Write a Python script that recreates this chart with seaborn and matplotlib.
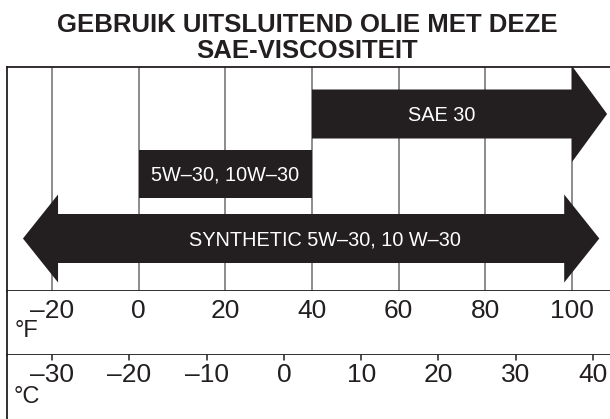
import matplotlib
matplotlib.use("Agg")
import matplotlib.pyplot as plt
from matplotlib.patches import Polygon
import seaborn as sns

# data
title = "GEBRUIK UITSLUITEND OLIE MET DEZE\nSAE-VISCOSITEIT"
grades = ["SAE 30", "5W\u201330, 10W\u201330", "SYNTHETIC 5W\u201330, 10 W\u201330"]
body_lo_f = [40, 0, -18.6]
body_hi_f = [100, 40, 98.2]
arrow_left = [False, False, True]
arrow_right = [True, False, True]
f_ticks = [-20, 0, 20, 40, 60, 80, 100]
c_ticks = [-30, -20, -10, 0, 10, 20, 30, 40]

# style / layout (pixel based, figure is 610x419)
W, H = 610, 419
INK = "#231f20"
GRID = "#6d6e71"
lane_y = [114, 174, 238.5]
body_half = [24.5, 24, 24.5]
head_half = [48, 0, 44]
head_len = 8.1
label_dx = [0, 0, 3.2]
f_lim = (-30.38, 108.77)
c_lim = (-35.82, 42.2)

sns.set_theme(style="white")
plt.rcParams["font.family"] = ["Liberation Sans", "DejaVu Sans"]

fig = plt.figure(figsize=(W / 100, H / 100), dpi=100)


def box(top, bottom):
    return [7 / W, 1 - bottom / H, 1 - 7 / W, (bottom - top) / H]


ax = fig.add_axes(box(67, 291))
ax_f = fig.add_axes(box(291, 355))
ax_c = fig.add_axes(box(355, 419))

for a in (ax, ax_f, ax_c):
    a.set_xticks([])
    a.set_yticks([])
    a.set_facecolor("white")
    sns.despine(ax=a, top=True, right=True, bottom=True, left=False)
    a.spines["left"].set_color(INK)
    a.spines["left"].set_linewidth(1.3)

ax.set_xlim(*f_lim)
ax.set_ylim(291, 67)
for side in ("top", "bottom"):
    ax.spines[side].set_visible(True)
    ax.spines[side].set_color(INK)
    ax.spines[side].set_linewidth(1.3)

# grid lines at each F tick
for t in f_ticks:
    ax.axvline(t, color=GRID, lw=1.1, zorder=1)

# bars / arrows
for i, name in enumerate(grades):
    lo, hi = body_lo_f[i], body_hi_f[i]
    yc, bh, hh = lane_y[i], body_half[i], head_half[i]
    pts = []
    if arrow_left[i]:
        pts += [(lo - head_len, yc), (lo, yc - hh), (lo, yc - bh)]
    else:
        pts += [(lo, yc + bh), (lo, yc - bh)]
    if arrow_right[i]:
        pts += [(hi, yc - bh), (hi, yc - hh), (hi + head_len, yc), (hi, yc + hh), (hi, yc + bh)]
    else:
        pts += [(hi, yc - bh), (hi, yc + bh)]
    if arrow_left[i]:
        pts += [(lo, yc + bh), (lo, yc + hh)]
    ax.add_patch(Polygon(pts, closed=True, facecolor=INK, edgecolor="none",
                         zorder=3, clip_on=False))
    ax.text((lo + hi) / 2 + label_dx[i], yc + 1, name, color="white",
            fontsize=14.3, ha="center", va="center", zorder=4)

# Fahrenheit row
ax_f.set_xlim(*f_lim)
ax_f.set_ylim(0, 1)
ax_f.spines["bottom"].set_visible(True)
ax_f.spines["bottom"].set_color(INK)
ax_f.spines["bottom"].set_linewidth(1.3)
for t in f_ticks:
    lab = str(t).replace("-", "\u2013")
    ax_f.text(t, 0.68, lab, fontsize=19, color=INK, ha="center", va="center")
fig.text(27 / W, 1 - 331 / H, "\u00b0F", fontsize=17, color=INK,
         ha="center", va="center")

# Celsius row
ax_c.set_xlim(*c_lim)
ax_c.set_ylim(0, 1)
for t in c_ticks:
    ax_c.plot([t, t], [1, 0.92], color=INK, lw=1.1, clip_on=False)
    lab = str(t).replace("-", "\u2013")
    ax_c.text(t, 0.69, lab, fontsize=19, color=INK, ha="center", va="center")
fig.text(27 / W, 1 - 397 / H, "\u00b0C", fontsize=17, color=INK,
         ha="center", va="center")

fig.text(307 / W, 1 - 38 / H, title, fontsize=18.5, fontweight="bold",
         color=INK, ha="center", va="center", linespacing=1.1)

fig.savefig("out.png", dpi=100, facecolor="white")
